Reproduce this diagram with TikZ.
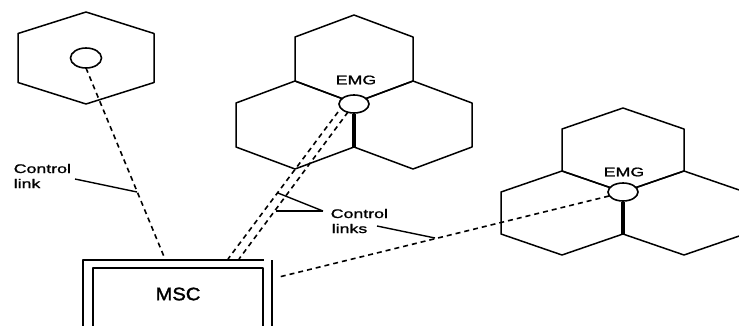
\documentclass[tikz,border=0pt]{standalone}
\usepackage{fontspec}
\setmainfont{Liberation Sans}
\newfontfamily\widefont[FakeStretch=1.42,FakeBold=1.3]{Liberation Sans}
\newfontfamily\mscfont[FakeStretch=1.12,FakeBold=1.8]{Liberation Sans}
\usetikzlibrary{shapes.geometric}
\newcommand\myhex[5]{\draw (#1,{#2-#4-#5}) -- ({#1+#3},{#2-#4}) -- ({#1+#3},{#2+#4}) -- (#1,{#2+#4+#5}) -- ({#1-#3},{#2+#4}) -- ({#1-#3},{#2-#4}) -- cycle;}
\begin{document}
\begin{tikzpicture}[x=1pt,y=-1pt, line width=1.5pt, line join=round,
  lbl/.style={font=\widefont\fontsize{12.5}{15.5}\selectfont, inner sep=0pt, anchor=base west},
  ctl/.style={dash pattern=on 5pt off 4pt, line width=1.6pt},
  emgc/.style={ellipse, draw, fill=white, inner sep=0pt, line width=1.6pt},
  leader/.style={line width=1.4pt},
  thickln/.style={line width=3.4pt}]
\useasboundingbox (0,0) rectangle (739,325);
\clip (0,0) rectangle (739,325);
% hexagons
\myhex{86}{58}{68}{24.5}{21.5}
\myhex{354}{59}{59}{22}{22}
\myhex{295}{125}{59}{22}{22}
\myhex{413}{125}{59}{22}{22}
\myhex{623}{150}{61}{21}{21}
\myhex{562}{213}{61}{21}{21}
\myhex{684}{213}{61}{21}{21}
% MSC box
\draw (83,340) -- (83,260) -- (264,260);
\draw (272,260) -- (272,340);
\draw (93,340) -- (93,268) -- (263,268) -- (263,340);
\node[font=\mscfont\fontsize{18}{20}\selectfont, inner sep=0pt] (msc) at (178,294) {MSC};
% coordinates
\coordinate (m1) at (165,259);
\coordinate (m2) at (228,259);
\coordinate (m3) at (239,259);
\coordinate (m4) at (279,277);
\coordinate (a1) at (338,112);
\coordinate (a2) at (348,112);
\coordinate (b1) at (609,196);
\coordinate (v1) at (354,147);
\coordinate (v2) at (623,234);
% dashed control links
\draw[ctl] (86,68) -- (m1);
\draw[ctl] (a1) -- (m2);
\draw[ctl] (a2) -- (m3);
\draw[ctl] (b1) -- (m4);
% circles
\node[emgc, minimum width=31pt, minimum height=20pt] (c1) at (86,58) {};
\node[emgc, minimum width=30pt, minimum height=18pt] (emg1) at (354,104) {};
\node[emgc, minimum width=30pt, minimum height=18pt] (emg2) at (623,192) {};
\draw[thickln] (emg1.south) -- (v1);
\draw[thickln] (emg2.south) -- (v2);
% labels
\node[font=\widefont\fontsize{12.5}{15}\selectfont, inner sep=0pt] (t1) at (356,80) {EMG};
\node[font=\widefont\fontsize{12.5}{15}\selectfont, inner sep=0pt] (t2) at (624,172) {EMG};
\node[lbl] (cl1) at (13,173) {Control};
\node[lbl] (cl2) at (13,188) {link};
\node[lbl] (cs1) at (330,218) {Control};
\node[lbl] (cs2) at (331,233) {links};
% leaders
\coordinate (l1a) at (75,179);
\coordinate (l1b) at (137,192);
\draw[leader] (l1a) -- (l1b);
\coordinate (l2a) at (323,211);
\coordinate (l2b) at (278,193);
\coordinate (l2c) at (276,211);
\draw[leader] (l2a) -- (l2b);
\draw[leader] (l2a) -- (l2c);
\coordinate (l3a) at (377,226);
\coordinate (l3b) at (435,238);
\draw[leader] (l3a) -- (l3b);
\end{tikzpicture}
\end{document}
